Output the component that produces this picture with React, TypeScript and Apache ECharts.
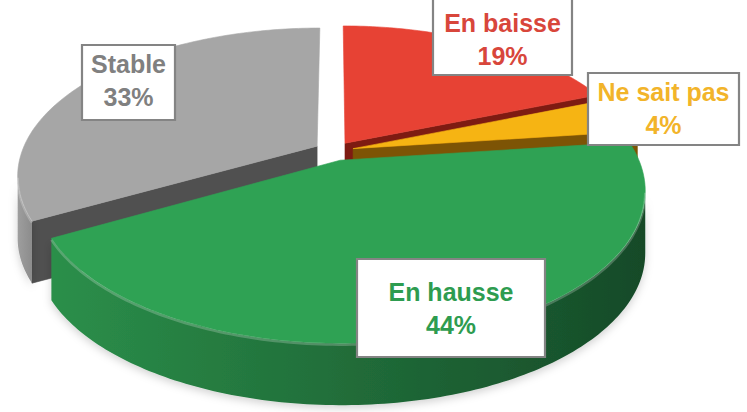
import React, { useEffect, useRef } from "react";
import * as echarts from "echarts";

// ---- data ----
const categories = ["En baisse", "Ne sait pas", "En hausse", "Stable"];
const values = [19, 4, 44, 33];

// ---- styles ----
const topColors = ["#E74234", "#F6B413", "#2FA254", "#A6A6A6"];
const cutColors = ["#7E1B12", "#7D5405", "#1F6B37", "#505050"];
const sideColorsLeft = ["#C9372B", "#D99C0E", "#2B8F4A", "#9E9E9E"];
const sideColorsRight = ["#8E2419", "#8A6308", "#164A28", "#8C8C8C"];
const labelColors = ["#D8463B", "#F2B42A", "#2E9C50", "#808080"];

// ---- layout (pixels) ----
const CX = 334;
const CY = 151;
const RX = 295;
const AY = 143;
const PB = 0.196;
const H = 62;
const EXPLODE = 0.067;
// label boxes: x, y, w, h
const labelLayout = [
  [433, -10, 139, 85],
  [588, 73, 151, 72],
  [357, 259, 188, 98],
  [82, 45, 93, 75],
];
const labelCenterY = [39, 108, 308.5, 80.5];

const DEG = Math.PI / 180;

function proj(u: number, v: number): number[] {
  const d = 1 - PB * v;
  return [CX + (RX * u) / d, CY + (AY * v) / d];
}

export default function App() {
  const ref = useRef<HTMLDivElement>(null);

  useEffect(() => {
    if (!ref.current) return;
    const chart = echarts.init(ref.current, undefined, { renderer: "svg" });

    const renderItem = (params: any, api: any) => {
      const i = params.dataIndex;
      const total = values.reduce((a, b) => a + b, 0);
      let startVal = 0;
      for (let k = 0; k < i; k++) startVal += values[k];
      const val = api.value(0);
      const start = (startVal / total) * 360;
      const end = ((startVal + val) / total) * 360;
      const a1 = start * DEG;
      const a2 = end * DEG;
      const am = (a1 + a2) / 2;
      const eu = EXPLODE * Math.sin(am);
      const ev = -EXPLODE * Math.cos(am);
      const steps = Math.max(4, Math.ceil(end - start));
      const top: number[][] = [];
      const bot: number[][] = [];
      for (let k = 0; k <= steps; k++) {
        const t = a1 + ((a2 - a1) * k) / steps;
        const p = proj(eu + Math.sin(t), ev - Math.cos(t));
        top.push(p);
        bot.push([p[0], p[1] + H]);
      }
      const c = proj(eu, ev);
      const cb = [c[0], c[1] + H];
      const depth = -Math.cos(am);
      const zb = Math.round((depth + 2) * 100) * 10;
      const children: any[] = [];

      if (Math.cos(a1 - Math.PI / 2) < -0.01) {
        children.push({
          type: "polygon",
          z2: zb + 1,
          shape: { points: [c, top[0], bot[0], cb] },
          style: { fill: cutColors[i], stroke: cutColors[i], lineWidth: 0.6 },
        });
      }
      if (Math.cos(a2 + Math.PI / 2) < -0.01) {
        const l = top.length - 1;
        children.push({
          type: "polygon",
          z2: zb + 1,
          shape: { points: [c, top[l], bot[l], cb] },
          style: { fill: cutColors[i], stroke: cutColors[i], lineWidth: 0.6 },
        });
      }
      // outer side (front-facing part)
      let kf = -1;
      let kl = -1;
      for (let k = 0; k < steps; k++) {
        if (top[k + 1][0] < top[k][0] - 1e-9) {
          if (kf < 0) kf = k;
          kl = k;
        }
      }
      if (kf >= 0) {
        const pts: number[][] = [];
        for (let k = kf; k <= kl + 1; k++) pts.push(top[k]);
        for (let k = kl + 1; k >= kf; k--) pts.push(bot[k]);
        children.push({
          type: "polygon",
          z2: zb + 2,
          shape: { points: pts },
          style: {
            fill: {
              type: "linear",
              x: 0,
              y: 0,
              x2: 1,
              y2: 0,
              colorStops: [
                { offset: 0, color: sideColorsLeft[i] },
                { offset: 1, color: sideColorsRight[i] },
              ],
            },
            shadowBlur: 8,
            shadowColor: "rgba(0,0,0,0.18)",
            shadowOffsetY: 3,
          },
        });
        // bevel highlight along the front rim
        const rim: number[][] = [];
        for (let k = kf; k <= kl + 1; k++) rim.push([top[k][0], top[k][1] + 1.5]);
        children.push({
          type: "polyline",
          z2: zb + 4,
          shape: { points: rim },
          style: { fill: null, stroke: "rgba(255,255,255,0.22)", lineWidth: 2.5 },
        });
      }
      children.push({
        type: "polygon",
        z2: zb + 3,
        shape: { points: [c, ...top] },
        style: { fill: topColors[i], stroke: topColors[i], lineWidth: 0.6 },
      });
      return { type: "group", children };
    };

    const graphics: any[] = [];
    categories.forEach((name, i) => {
      const [x, y, w, h] = labelLayout[i];
      graphics.push({
        type: "rect",
        z: 100,
        shape: { x, y, width: w, height: h },
        style: { fill: "#ffffff", stroke: "#848484", lineWidth: 2.2 },
      });
      graphics.push({
        type: "text",
        z: 101,
        x: x + w / 2,
        y: labelCenterY[i],
        style: {
          text: `${name}\n${values[i]}%`,
          fill: labelColors[i],
          font: 'bold 25px "Liberation Sans", Arial, sans-serif',
          align: "center",
          verticalAlign: "middle",
          lineHeight: 33,
        },
      });
    });

    chart.setOption({
      animation: false,
      backgroundColor: "#ffffff",
      series: [
        {
          type: "custom",
          coordinateSystem: "none",
          renderItem,
          data: categories.map((name, i) => ({ name, value: [values[i]] })),
          silent: true,
        },
      ],
      graphic: graphics,
    });

    return () => chart.dispose();
  }, []);

  return (
    <div
      ref={ref}
      style={{ position: "fixed", left: 0, top: 0, width: 747, height: 412 }}
    />
  );
}
